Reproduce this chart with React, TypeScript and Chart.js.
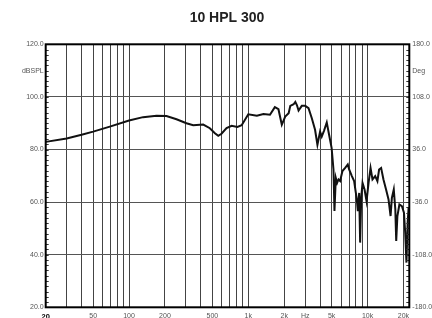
import React, { useEffect, useRef } from "react";
import { Chart, registerables } from "chart.js";

Chart.register(...registerables);

const TITLE = "10 HPL 300";

const freqs = [
  20, 30, 40, 50, 69, 100, 131, 170, 206, 250, 303, 345, 419, 476, 525, 560, 596, 657, 725, 810, 880,
  1000, 1180, 1340, 1520, 1670, 1790, 1910, 2040, 2180, 2250, 2400, 2480, 2560, 2640, 2810, 3000, 3200,
  3410, 3630, 3800, 4000, 4130, 4320, 4550, 4760, 5000, 5100, 5180, 5280, 5420, 5560, 5710, 5890, 6160,
  6490, 6830, 7010, 7390, 7720, 7980, 8130, 8290, 8510, 8670, 8850, 9080, 9440, 9810, 10200, 10600,
  11000, 11600, 12100, 12500, 13000, 13600, 14300, 15000, 15600, 16000, 16600, 17100, 17400, 17800,
  18500, 19400, 20200, 20700, 21200, 21700, 22100, 22350,
];

const spl = [
  82.9, 84.2, 85.6, 86.8, 88.7, 91.0, 92.3, 92.8, 92.7, 91.5, 90.0, 89.2, 89.5, 88.1, 86.2, 85.2, 86.0,
  88.1, 89.0, 88.6, 89.2, 93.4, 92.8, 93.5, 93.2, 96.1, 95.3, 89.4, 92.5, 93.8, 96.6, 97.2, 98.1, 96.8,
  94.8, 96.6, 96.6, 95.7, 91.9, 87.5, 81.8, 86.8, 84.9, 87.2, 90.3, 85.6, 80.5, 76.0, 72.4, 56.6, 69.2,
  67.3, 68.6, 68.0, 71.8, 73.0, 74.3, 72.4, 69.9, 68.0, 63.5, 61.0, 56.6, 63.5, 44.6, 61.6, 67.3, 64.8,
  60.4, 67.3, 73.0, 68.6, 69.9, 68.0, 72.4, 73.0, 68.6, 64.8, 61.0, 54.7, 61.6, 64.8, 57.2, 45.2, 54.7,
  59.1, 58.5, 56.0, 48.4, 37.0, 52.2, 57.8, 54.7,
];

const xGridValues = [
  20, 30, 40, 50, 60, 70, 80, 90, 100, 200, 300, 400, 500, 600, 700, 800, 900, 1000, 2000, 3000, 4000,
  5000, 6000, 7000, 8000, 9000, 10000, 20000,
];
const xLabelValues = [20, 50, 100, 200, 500, 1000, 2000, 3000, 5000, 10000, 20000];
const xLabelTexts = ["20", "50", "100", "200", "500", "1k", "2k", "Hz", "5k", "10k", "20k"];

const yLeftValues = [20, 40, 60, 80, 100, 110, 120];
const yLeftTexts = ["20.0", "40.0", "60.0", "80.0", "100.0", "dBSPL", "120.0"];
const yRightValues = [-180, -108, -36, 36, 108, 144, 180];
const yRightTexts = ["-180.0", "-108.0", "-36.0", "36.0", "108.0", "Deg", "180.0"];

const FONT = "'Liberation Sans', Arial, Helvetica, sans-serif";

export default function App() {
  const ref = useRef<HTMLCanvasElement | null>(null);

  useEffect(() => {
    if (!ref.current) return;

    const framePlugin = {
      id: "framePlugin",
      afterDatasetsDraw(chart: any) {
        const { ctx, chartArea } = chart;
        const y = chart.scales.y;
        ctx.save();
        ctx.strokeStyle = "#333";
        ctx.lineWidth = 1;
        for (let v = 22; v < 120; v += 2) {
          const py = Math.round(y.getPixelForValue(v)) + 0.5;
          ctx.beginPath();
          ctx.moveTo(chartArea.left, py);
          ctx.lineTo(chartArea.left + 3, py);
          ctx.moveTo(chartArea.right, py);
          ctx.lineTo(chartArea.right - 3, py);
          ctx.stroke();
        }
        ctx.strokeStyle = "#000";
        ctx.lineWidth = 2;
        ctx.strokeRect(chartArea.left, chartArea.top, chartArea.right - chartArea.left, chartArea.bottom - chartArea.top);
        ctx.restore();
      },
      afterDraw(chart: any) {
        const { ctx } = chart;
        ctx.save();
        ctx.fillStyle = "#222";
        ctx.font = `bold 14px ${FONT}`;
        ctx.textAlign = "center";
        ctx.textBaseline = "middle";
        ctx.fillText(TITLE, 227, 18);
        ctx.restore();
      },
    };

    const chart = new Chart(ref.current, {
      type: "line",
      data: {
        datasets: [
          {
            data: freqs.map((f, i) => ({ x: f, y: spl[i] })),
            borderColor: "#111",
            borderWidth: 2,
            pointRadius: 0,
            tension: 0,
            fill: false,
          },
        ],
      },
      options: {
        responsive: false,
        animation: false,
        events: [],
        layout: { padding: { top: 44.3, left: 0, right: 0, bottom: 0 } },
        plugins: { legend: { display: false }, title: { display: false }, tooltip: { enabled: false } },
        scales: {
          x: {
            type: "logarithmic",
            min: 20,
            max: 22400,
            afterBuildTicks: (s: any) => {
              s.ticks = xGridValues.map((v) => ({ value: v }));
            },
            afterFit: (s: any) => {
              s.height = 10.7;
            },
            grid: { color: "#444", lineWidth: 1, drawTicks: false },
            border: { display: false },
            ticks: {
              autoSkip: false,
              maxRotation: 0,
              padding: 5,
              color: (c: any) => (c.tick && c.tick.value === 20 ? "#000" : "#555"),
              font: (c: any) => ({
                family: FONT,
                size: c.tick && c.tick.value === 20 ? 7.5 : 7,
                weight: c.tick && c.tick.value === 20 ? "bold" : "normal",
              }),
              callback: (v: any) => {
                const i = xLabelValues.indexOf(Number(v));
                return i >= 0 ? xLabelTexts[i] : "";
              },
            },
          },
          y: {
            type: "linear",
            position: "left",
            min: 20,
            max: 120,
            afterBuildTicks: (s: any) => {
              s.ticks = yLeftValues.map((v) => ({ value: v }));
            },
            afterFit: (s: any) => {
              s.width = 45.7;
            },
            grid: {
              drawTicks: false,
              lineWidth: 1,
              color: (c: any) => (c.tick && (c.tick.value === 110 || c.tick.value === 120 || c.tick.value === 20) ? "rgba(0,0,0,0)" : "#555"),
            },
            border: { display: false },
            ticks: {
              padding: 2,
              color: "#555",
              font: { family: FONT, size: 7 },
              callback: (v: any) => {
                const i = yLeftValues.indexOf(Number(v));
                return i >= 0 ? yLeftTexts[i] : "";
              },
            },
          },
          y2: {
            type: "linear",
            position: "right",
            min: -180,
            max: 180,
            afterBuildTicks: (s: any) => {
              s.ticks = yRightValues.map((v) => ({ value: v }));
            },
            afterFit: (s: any) => {
              s.width = 22.7;
            },
            grid: { display: false, drawTicks: false },
            border: { display: false },
            ticks: {
              padding: 3,
              color: "#555",
              font: { family: FONT, size: 7 },
              callback: (v: any) => {
                const i = yRightValues.indexOf(Number(v));
                return i >= 0 ? yRightTexts[i] : "";
              },
            },
          },
        },
      },
      plugins: [framePlugin],
    } as any);

    return () => chart.destroy();
  }, []);

  return (
    <div style={{ position: "fixed", left: 0, top: 0, width: 432, height: 318, background: "#fff" }}>
      <canvas ref={ref} width={432} height={318} />
    </div>
  );
}
